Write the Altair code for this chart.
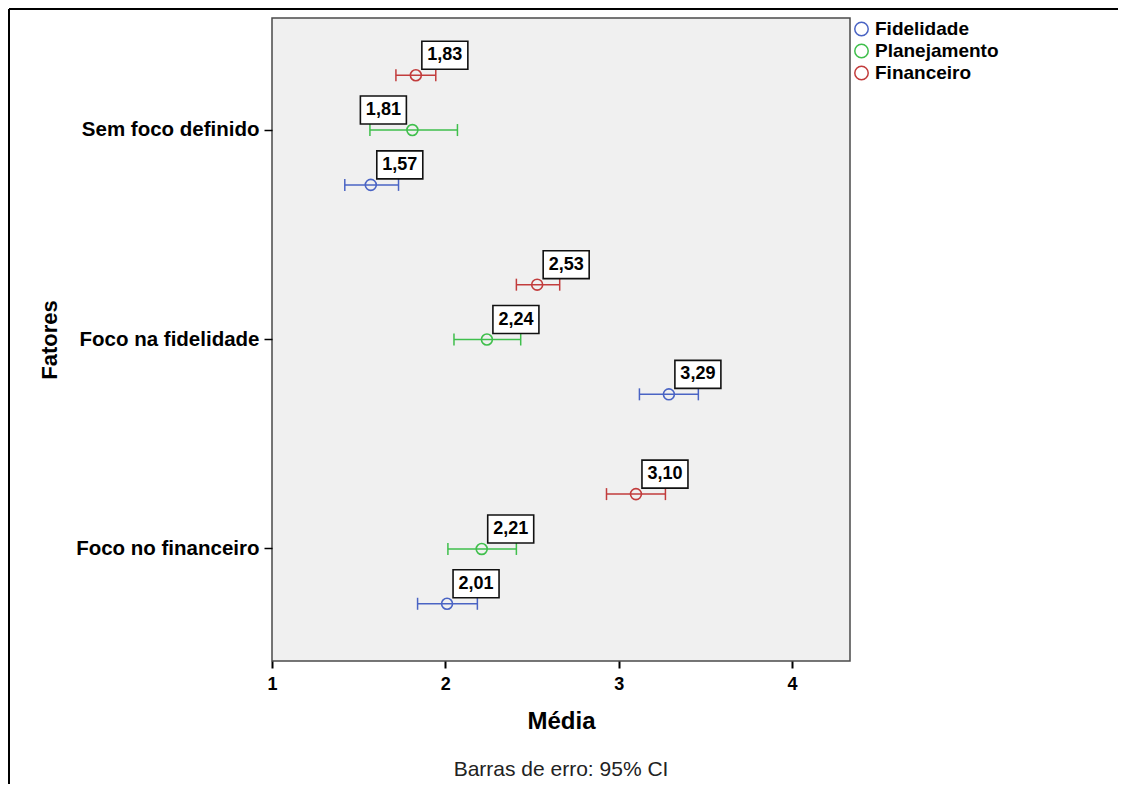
import altair as alt
import pandas as pd

# ---- data ----
fatores = ["Sem foco definido", "Foco na fidelidade", "Foco no financeiro"]
grupos = ["Fidelidade", "Planejamento", "Financeiro"]
ordem_vertical = ["Financeiro", "Planejamento", "Fidelidade"]
cores = ["#4a64c4", "#3fbf4c", "#c23c3c"]

media_fidelidade = [1.57, 3.29, 2.01]
media_planejamento = [1.81, 2.24, 2.21]
media_financeiro = [1.83, 2.53, 3.10]

lo_fidelidade = [1.42, 3.12, 1.84]
lo_planejamento = [1.565, 2.05, 2.015]
lo_financeiro = [1.715, 2.41, 2.93]

hi_fidelidade = [1.73, 3.46, 2.185]
hi_planejamento = [2.07, 2.435, 2.41]
hi_financeiro = [1.945, 2.66, 3.27]

# labels drawn to the left of their point (fator, grupo)
rotulo_esquerda = [("Sem foco definido", "Planejamento")]

rows = []
for g, ms, los, his in zip(
    grupos,
    [media_fidelidade, media_planejamento, media_financeiro],
    [lo_fidelidade, lo_planejamento, lo_financeiro],
    [hi_fidelidade, hi_planejamento, hi_financeiro],
):
    for f, m, l, h in zip(fatores, ms, los, his):
        rows.append({"fator": f, "grupo": g, "media": m, "lo": l, "hi": h,
                     "label": f"{m:.2f}".replace(".", ","),
                     "esq": (f, g) in rotulo_esquerda})
df = pd.DataFrame(rows)

FONT = "Liberation Sans"
W, H = 578, 643

x_axis = alt.Axis(values=[1, 2, 3, 4], format="d", title="Média", grid=False, domain=False,
                  ticks=True, tickSize=7, tickWidth=2, tickColor="black", labelFlush=False,
                  labelFont=FONT, labelFontSize=18, labelFontWeight="bold", labelColor="black",
                  labelPadding=7, titleFont=FONT, titleFontSize=24, titleFontWeight="bold",
                  titleColor="black", titlePadding=16)
x_scale = alt.Scale(domain=[1, 4.335], nice=False, zero=False)

y_enc = alt.Y("fator:N", sort=fatores,
              scale=alt.Scale(paddingInner=0, paddingOuter=0.035),
              axis=alt.Axis(title="Fatores", grid=False, domain=False, ticks=True,
                            tickSize=8, tickWidth=1.5, tickColor="black",
                            labelFont=FONT, labelFontSize=20.5, labelFontWeight="bold",
                            labelColor="black", labelPadding=5, labelLimit=400,
                            titleFont=FONT, titleFontSize=22, titleFontWeight="bold",
                            titleColor="black", titlePadding=14))
yoff = alt.YOffset("grupo:N", sort=ordem_vertical,
                   scale=alt.Scale(paddingInner=0, paddingOuter=0.41))
color_scale = alt.Scale(domain=grupos, range=cores)
legend = alt.Legend(orient="none", legendX=580, legendY=1.5, title=None,
                    labelFont=FONT, labelFontSize=19, labelFontWeight="bold",
                    labelColor="black", symbolType="circle", symbolSize=180,
                    symbolStrokeWidth=1.5, symbolFillColor="transparent",
                    rowPadding=1, labelOffset=4, padding=0)
color_enc = alt.Color("grupo:N", scale=color_scale, sort=grupos, legend=legend)

base = alt.Chart(df)

bars = base.mark_rule(strokeWidth=1.5).encode(
    x=alt.X("lo:Q", scale=x_scale, axis=x_axis),
    x2="hi:Q",
    y=y_enc, yOffset=yoff,
    color=color_enc,
)

caps = base.transform_fold(["lo", "hi"], as_=["k", "v"]).mark_point(
    shape="M0,-1L0,1", size=144, filled=False, strokeWidth=1.5, opacity=1
).encode(
    x=alt.X("v:Q", scale=x_scale, axis=x_axis),
    y=y_enc, yOffset=yoff,
    color=color_enc,
)

points = base.mark_point(shape="circle", size=120, filled=False, strokeWidth=1.6, opacity=1).encode(
    x=alt.X("media:Q", scale=x_scale, axis=x_axis),
    y=y_enc, yOffset=yoff,
    color=color_enc,
)

def box_layer(esq):
    path = ("M-2.261,-1.478H-0.261V-0.261H-2.261Z" if esq
            else "M0.261,-1.478H2.261V-0.261H0.261Z")
    return base.transform_filter(
        alt.datum.esq if esq else ~alt.datum.esq
    ).mark_point(
        shape=path, size=2116, filled=True,
        fill="white", stroke="#111111", strokeWidth=1.6, opacity=1
    ).encode(
        x=alt.X("media:Q", scale=x_scale, axis=x_axis),
        y=y_enc, yOffset=yoff,
    )

def text_layer(esq):
    return base.transform_filter(
        alt.datum.esq if esq else ~alt.datum.esq
    ).mark_text(dx=-29 if esq else 29, dy=-20, font=FONT, fontSize=18, fontWeight="bold",
                color="black").encode(
        x=alt.X("media:Q", scale=x_scale, axis=x_axis),
        y=y_enc, yOffset=yoff,
        text="label:N",
    )

one = pd.DataFrame({"a": [0]})
frame_top = alt.Chart(one).mark_rule(color="black", strokeWidth=2).encode(
    x=alt.value(-263), x2=alt.value(900), y=alt.value(-9))
frame_left = alt.Chart(one).mark_rule(color="black", strokeWidth=2).encode(
    x=alt.value(-263), y=alt.value(-9), y2=alt.value(900))
nota = alt.Chart(one).mark_text(font=FONT, fontSize=21, color="#222222").encode(
    x=alt.value(W / 2), y=alt.value(752), text=alt.value("Barras de erro: 95% CI"))

chart = alt.layer(
    bars, caps, points, box_layer(False), box_layer(True), text_layer(False), text_layer(True),
    frame_top, frame_left, nota
).properties(
    width=W, height=H,
    autosize=alt.AutoSizeParams(type="none"),
    padding={"left": 264, "top": 10, "right": 268, "bottom": 123},
    background="white",
).configure_view(
    fill="#f0f0f0", stroke="#4a4a4a", strokeWidth=1.5
)

chart.save("out.html", embed_options={"renderer": "svg", "actions": False})
